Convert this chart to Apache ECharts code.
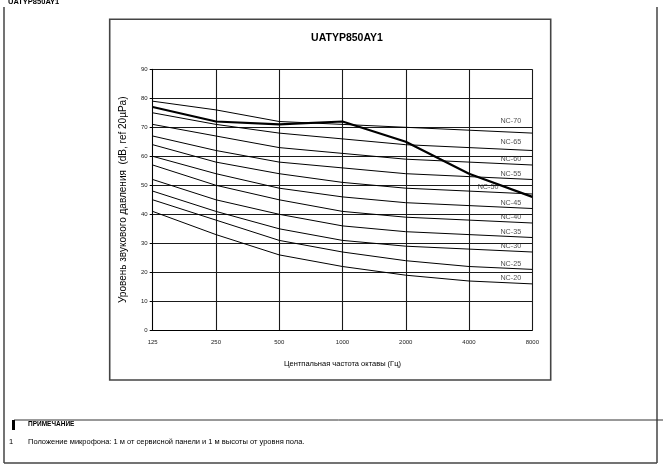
<!DOCTYPE html>
<html><head><meta charset="utf-8">
<script src="https://cdn.jsdelivr.net/npm/echarts@6/dist/echarts.min.js"></script>
<style>html,body{margin:0;padding:0;background:#fff}#c{width:663px;height:472px}</style>
</head><body><div id="c"></div>
<script>
var freqs = ['125','250','500','1000','2000','4000','8000'];
var yTicks = [0,10,20,30,40,50,60,70,80,90];
var ncNames = ['NC-70','NC-65','NC-60','NC-55','NC-50','NC-45','NC-40','NC-35','NC-30','NC-25','NC-20'];
var nc70 = [79,76,72,71,70,69,68];
var nc65 = [75,71,68,66,64,63,62];
var nc60 = [71,67,63,61,59,58,57];
var nc55 = [67,62,58,56,54,53,52];
var nc50 = [64,58,54,51,49,48,47];
var nc45 = [60,54,49,46,44,43,42];
var nc40 = [57,50,45,41,39,38,37];
var nc35 = [52,45,40,36,34,33,32];
var nc30 = [48,41,35,31,29,28,27];
var nc25 = [45,38,31,27,24,22,21];
var nc20 = [41,33,26,22,19,17,16];
var unitLevel = [77,72,71,72,65,54,46];

var ncCurves = [nc70,nc65,nc60,nc55,nc50,nc45,nc40,nc35,nc30,nc25,nc20];
var FONT = 'Liberation Sans';

function pts(arr){ return arr.map(function(v,i){ return [i,v]; }); }

var series = [];
ncCurves.forEach(function(c,k){
  series.push({type:'line', data:pts(c), symbol:'none', silent:true,
    lineStyle:{color:'#000', width:1}, z:3});
});
series.push({type:'line', data:pts(unitLevel), symbol:'none', silent:true,
  lineStyle:{color:'#000', width:2.2}, z:4});

// curve labels placed on the 4000-8000 segment
var labelData = ncCurves.map(function(c,k){
  var f = (k===4) ? 0.3 : 0.66;
  var y = c[5] + (c[6]-c[5])*f;
  var extra = (k===0) ? 2.2 : (k===1 ? 1.0 : 0);
  return {value:[5+f, y + 1.6 + extra], name:ncNames[k]};
});
series.push({type:'scatter', data:labelData, symbolSize:0, silent:true, z:5,
  label:{show:true, position:'inside', formatter:function(p){return p.name;},
    fontFamily:FONT, fontSize:7.2, color:'#222'}});

var option = {
  animation:false,
  backgroundColor:'#fff',
  title:{text:'UATYP850AY1', left:342, top:28, textAlign:'center',
    textStyle:{fontFamily:FONT, fontSize:10.5, fontWeight:'bold', color:'#000'}},
  grid:{left:152.7, right:130.7, top:69.3, bottom:141.7},
  xAxis:{type:'value', min:0, max:6, interval:1,
    name:'Центпальная частота октавы (Гц)', nameLocation:'middle', nameGap:30,
    nameTextStyle:{fontFamily:FONT, fontSize:7.5, color:'#000'},
    axisLine:{show:true, lineStyle:{color:'#000', width:1}},
    axisTick:{show:false},
    axisLabel:{formatter:function(v){return freqs[v];}, fontFamily:FONT, fontSize:6, color:'#222', margin:9},
    splitLine:{show:true, lineStyle:{color:'#1a1a1a', width:1.1}}},
  yAxis:{type:'value', min:yTicks[0], max:yTicks[yTicks.length-1], interval:10,
    name:'Уровень звукового давления  (dB, ref 20µPa)', nameLocation:'middle', nameGap:24,
    nameTextStyle:{fontFamily:FONT, fontSize:10, color:'#000'},
    axisLine:{show:true, lineStyle:{color:'#000', width:1}},
    axisTick:{show:true, length:3, lineStyle:{color:'#000'}},
    axisLabel:{fontFamily:FONT, fontSize:6, color:'#222', margin:5},
    splitLine:{show:true, lineStyle:{color:'#1a1a1a', width:1.1}}},
  series:series,
  graphic:[
    {type:'text', left:8, top:-2, style:{text:'UATYP850AY1', font:'bold 7.5px "Liberation Sans"', fill:'#000'}},
    {type:'line', shape:{x1:4, y1:7, x2:4, y2:463}, style:{stroke:'#444', lineWidth:1.5}},
    {type:'line', shape:{x1:4, y1:463, x2:657, y2:463}, style:{stroke:'#444', lineWidth:1.5}},
    {type:'line', shape:{x1:657, y1:7, x2:657, y2:463}, style:{stroke:'#444', lineWidth:1.5}},
    {type:'rect', shape:{x:109.7, y:19.3, width:441, height:360.7}, style:{fill:'none', stroke:'#444', lineWidth:1.6}},
    {type:'line', shape:{x1:14, y1:420, x2:663, y2:420}, style:{stroke:'#333', lineWidth:1}},
    {type:'rect', shape:{x:12, y:420, width:3, height:10}, style:{fill:'#000'}},
    {type:'text', left:28, top:421, style:{text:'ПРИМЕЧАНИЕ', font:'bold 6.5px "Liberation Sans"', fill:'#000'}},
    {type:'text', left:9, top:438, style:{text:'1', font:'7.5px "Liberation Sans"', fill:'#000'}},
    {type:'text', left:28, top:438, style:{text:'Положение микрофона: 1 м от сервисной панели и 1 м высоты от уровня пола.', font:'7.5px "Liberation Sans"', fill:'#000'}}
  ]
};
var chart = echarts.init(document.getElementById('c'), null, {renderer:'canvas'});
chart.setOption(option);
</script></body></html>
